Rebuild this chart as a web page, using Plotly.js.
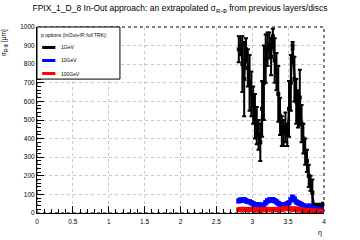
<!DOCTYPE html>
<html><head><meta charset="utf-8">
<script src="https://cdn.plot.ly/plotly-3.0.1.min.js"></script>
<style>html,body{margin:0;padding:0;background:#fff}#c{width:360px;height:240px}</style>
</head><body><div id="c"></div>
<script>
const eta = [2.8125,2.8375,2.8625,2.8875,2.9125,2.9375,2.9625,2.9875,3.0125,3.0375,3.0625,3.0875,3.1125,3.1375,3.1625,3.1875,3.2125,3.2375,3.2625,3.2875,3.3125,3.3375,3.3625,3.3875,3.4125,3.4375,3.4625,3.4875,3.5125,3.5375,3.5625,3.5875,3.6125,3.6375,3.6625,3.6875,3.7125,3.7375,3.7625,3.7875,3.8125,3.8375,3.8625,3.8875,3.9125,3.9375,3.9625,3.9875];
const sig1 = [880,900,800,720,880,780,700,640,580,520,470,420,380,560,700,830,880,900,840,950,820,760,640,520,440,430,460,420,560,700,900,720,600,560,620,480,400,330,280,200,160,110,40,35,40,38,40,45];
const err1 = [70,50,150,200,60,100,150,120,100,120,100,80,100,150,200,130,90,70,100,40,120,100,150,100,80,70,80,60,150,150,20,120,120,100,150,100,80,70,60,60,40,70,10,10,10,10,10,10];
const sig10 = [65,70,68,72,66,62,60,55,50,45,42,45,40,38,45,55,65,70,68,72,66,60,52,45,42,40,45,50,55,70,85,75,60,55,50,45,40,35,32,38,30,28,25,22,20,18,20,18];
const err10 = [8,8,8,8,8,8,8,8,8,8,8,8,8,8,8,8,8,8,8,8,8,8,8,8,8,8,8,8,8,8,8,8,8,8,8,8,6,6,6,6,5,5,5,5,5,5,5,5];
const sig100 = [18,20,18,20,19,18,20,19,18,17,18,16,15,17,18,19,20,18,17,19,20,18,17,18,20,22,24,25,23,22,20,22,21,18,17,16,15,14,13,12,12,11,10,10,9,9,8,8];
const err100 = [4,4,4,4,4,4,4,4,4,4,4,4,4,4,4,4,4,4,4,4,4,4,4,4,4,4,4,4,4,4,4,4,4,4,4,4,3,3,3,3,3,3,3,3,3,3,3,3];
const names = ["1GeV","10GeV","100GeV"];
const colors = ["#000000","#0000ff","#ff0000"];
const legendHeader = "p options (InOut+IP, full TRK):";

const sets = [[sig1,err1],[sig10,err10],[sig100,err100]];
const traces = sets.map((s,i)=>({
  x: eta, y: s[0], type:'scatter', mode:'lines+markers', name:names[i],
  line:{color:colors[i], width: i===0 ? 2 : 3},
  marker:{color:colors[i], symbol:'square', size: i===0 ? 4 : 5},
  error_y:{type:'data', array:s[1], visible:true, color:colors[i], thickness:2, width:2},
  showlegend:false
}));

const F = "Liberation Sans, Arial, sans-serif";
const lx0 = 0, lx1 = 0.289, ly1 = 1, ly0 = 0.72;
const rowY = [0.89, 0.82, 0.75];
const shapes = [
  {type:'rect', xref:'paper', yref:'paper', x0:0, x1:1, y0:0, y1:1, line:{color:'#000', width:1, dash:'dot'}},
  {type:'rect', xref:'paper', yref:'paper', x0:lx0, x1:lx1, y0:ly0, y1:ly1, line:{color:'#000', width:1}, fillcolor:'#ffffff'}
];
const annotations = [
  {xref:'paper', yref:'paper', x:0.007, y:0.985, xanchor:'left', yanchor:'top', text:legendHeader, showarrow:false, font:{family:F, size:5, color:'#000'}}
];
names.forEach((n,i)=>{
  shapes.push({type:'line', xref:'paper', yref:'paper', x0:0.018, x1:0.064, y0:rowY[i], y1:rowY[i], line:{color:colors[i], width:3}});
  annotations.push({xref:'paper', yref:'paper', x:0.075, y:rowY[i], xanchor:'left', yanchor:'middle', text:n, showarrow:false, font:{family:F, size:5, color:'#000'}});
});

const layout = {
  width:360, height:240,
  margin:{l:37, r:36, t:27, b:27},
  paper_bgcolor:'#ffffff', plot_bgcolor:'#ffffff',
  font:{family:F, size:6, color:'#000'},
  title:{text:'FPIX_1_D_8 In-Out approach: an extrapolated σ<sub>R-Φ</sub> from previous layers/discs', font:{family:F, size:8.5, color:'#000'}, x:0.5, xanchor:'center', y:0.965, yanchor:'middle'},
  xaxis:{range:[0,4], tickvals:[0,0.5,1,1.5,2,2.5,3,3.5,4], ticktext:['0','0.5','1','1.5','2','2.5','3','3.5','4'],
    ticks:'inside', ticklen:7, tickcolor:'#000', showline:true, linecolor:'#000', linewidth:1, zeroline:false,
    showgrid:true, gridcolor:'#c8c8c8', griddash:'dot', gridwidth:1,
    minor:{dtick:0.1, ticklen:4, ticks:'inside', tickcolor:'#000', showgrid:false},
    tickfont:{family:F, size:6.5}, ticklabelstandoff:2},
  yaxis:{range:[0,1000], dtick:100, ticks:'inside', ticklen:7, tickcolor:'#000', showline:true, linecolor:'#000', linewidth:1, zeroline:false,
    showgrid:true, gridcolor:'#c8c8c8', griddash:'dot', gridwidth:1,
    minor:{dtick:20, ticklen:4, ticks:'inside', tickcolor:'#000', showgrid:false},
    tickfont:{family:F, size:6.5}},
  shapes:shapes,
  annotations:annotations.concat([
    {xref:'paper', yref:'paper', x:1, y:-0.075, xanchor:'right', yanchor:'top', text:'η', showarrow:false, font:{family:F, size:7}},
    {xref:'paper', yref:'paper', x:-0.095, y:1, xanchor:'right', yanchor:'top', textangle:-90, text:'σ<sub>R-Φ</sub> [μm]', showarrow:false, font:{family:F, size:6.5}}
  ])
};
Plotly.newPlot('c', traces, layout, {staticPlot:true, displayModeBar:false});
</script></body></html>
